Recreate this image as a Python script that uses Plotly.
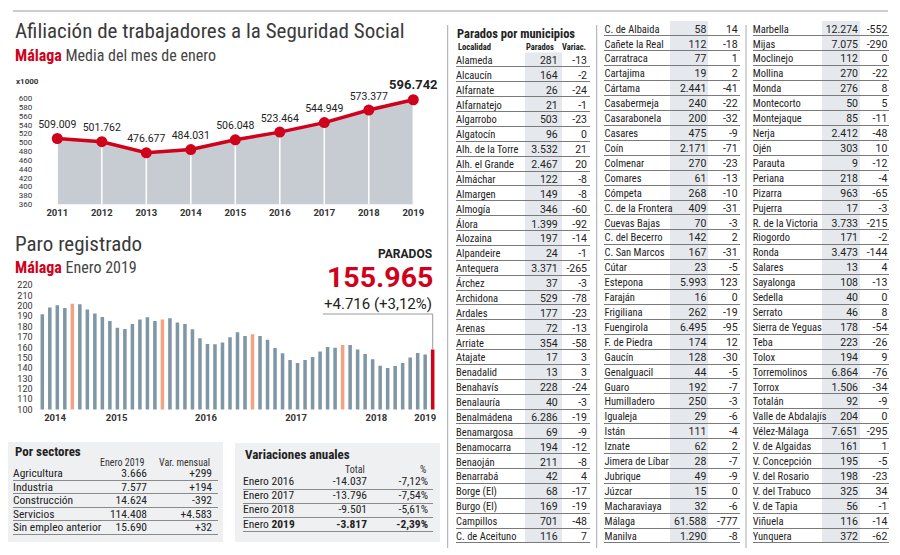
import plotly.graph_objects as go

W, H = 900, 555

# ---------------- DATA ----------------
afil_years = [2011, 2012, 2013, 2014, 2015, 2016, 2017, 2018, 2019]
afil_values = [509.009, 501.762, 476.677, 484.031, 506.048, 523.464, 544.949, 573.377, 596.742]
afil_ticks = [360, 380, 400, 420, 440, 460, 480, 500, 520, 540, 560, 580, 600]

# Paro registrado (miles), Sep 2014 .. Jan 2019
paro_values = [192, 198.4, 200.6, 198, 202, 201.6, 196.5, 192.6, 189.4, 185.5,
               179, 177.7, 182.6, 187, 189, 185.5, 187, 188, 184, 182.6,
               177.4, 168.7, 163.2, 163, 164.8, 169.7, 174.5, 171, 172.6, 171,
               167.4, 159.4, 154.2, 147.7, 144.8, 147.7, 150.6, 156, 160.3, 159.7,
               162.3, 162.3, 158, 153.5, 148.4, 142.3, 140, 142, 144.8, 150.3,
               154.5, 153, 158]
paro_jan_idx = [4, 16, 28, 40]
paro_year_labels = ["2014", "2015", "2016", "2017", "2018", "2019"]
paro_year_pos = [1.7, 9.9, 21.8, 33.8, 44.5, 51.0]
paro_ticks = [100, 110, 120, 130, 140, 150, 160, 170, 180, 190, 200, 210, 220]
parados_total = 155965
parados_diff = 4716
parados_diff_pct = 3.12

sect_names = ["Agricultura", "Industria", "Construcción", "Servicios", "Sin empleo anterior"]
sect_enero = [3666, 7577, 14624, 114408, 15690]
sect_var = [299, 194, -392, 4583, 32]

var_years = ["2016", "2017", "2018", "2019"]
var_total = [-14037, -13796, -9501, -3817]
var_pct = [-7.12, -7.54, -5.61, -2.39]

mun1_names = ["Alameda", "Alcaucín", "Alfarnate", "Alfarnatejo", "Algarrobo", "Algatocín",
              "Alh. de la Torre", "Alh. el Grande", "Almáchar", "Almargen", "Almogía", "Álora",
              "Alozaina", "Alpandeire", "Antequera", "Árchez", "Archidona", "Ardales", "Arenas",
              "Arriate", "Atajate", "Benadalid", "Benahavís", "Benalauría", "Benalmádena",
              "Benamargosa", "Benamocarra", "Benaoján", "Benarrabá", "Borge (El)", "Burgo (El)",
              "Campillos", "C. de Aceituno"]
mun1_parados = [281, 164, 26, 21, 503, 96, 3532, 2467, 122, 149, 346, 1399, 197, 24, 3371,
                37, 529, 177, 72, 354, 17, 13, 228, 40, 6286, 69, 194, 211, 42, 68, 169, 701, 116]
mun1_var = [-13, -2, -24, -1, -23, 0, 21, 20, -8, -8, -60, -92, -14, -1, -265,
            -3, -78, -23, -13, -58, 3, 3, -24, -3, -19, -9, -12, -8, 4, -17, -19, -48, 7]

mun2_names = ["C. de Albaida", "Cañete la Real", "Carratraca", "Cartajima", "Cártama",
              "Casabermeja", "Casarabonela", "Casares", "Coín", "Colmenar", "Comares", "Cómpeta",
              "C. de la Frontera", "Cuevas Bajas", "C. del Becerro", "C. San Marcos", "Cútar",
              "Estepona", "Faraján", "Frigiliana", "Fuengirola", "F. de Piedra", "Gaucín",
              "Genalguacil", "Guaro", "Humilladero", "Igualeja", "Istán", "Iznate",
              "Jimera de Líbar", "Jubrique", "Júzcar", "Macharaviaya", "Málaga", "Manilva"]
mun2_parados = [58, 112, 77, 19, 2441, 240, 200, 475, 2171, 270, 61, 268, 409, 70, 142, 167, 23,
                5993, 16, 262, 6495, 174, 128, 44, 192, 250, 29, 111, 62, 28, 49, 15, 32, 61588, 1290]
mun2_var = [14, -18, 1, 2, -41, -22, -32, -9, -71, -23, -13, -10, -31, -3, 2, -31, -5,
            123, 0, -19, -95, 12, -30, -5, -7, -3, -6, -4, 2, -7, -9, 0, -6, -777, -8]

mun3_names = ["Marbella", "Mijas", "Moclinejo", "Mollina", "Monda", "Montecorto", "Montejaque",
              "Nerja", "Ojén", "Parauta", "Periana", "Pizarra", "Pujerra", "R. de la Victoria",
              "Riogordo", "Ronda", "Salares", "Sayalonga", "Sedella", "Serrato", "Sierra de Yeguas",
              "Teba", "Tolox", "Torremolinos", "Torrox", "Totalán", "Valle de Abdalajís",
              "Vélez-Málaga", "V. de Algaidas", "V. Concepción", "V. del Rosario", "V. del Trabuco",
              "V. de Tapia", "Viñuela", "Yunquera"]
mun3_parados = [12274, 7075, 112, 270, 276, 50, 85, 2412, 303, 9, 218, 963, 17, 3733, 171, 3473, 13,
                108, 40, 46, 178, 223, 194, 6864, 1506, 92, 204, 7651, 161, 195, 198, 325, 56, 116, 372]
mun3_var = [-552, -290, 0, -22, 8, 5, -11, -48, 10, -12, -4, -65, -3, -215, -2, -144, 4,
            -13, 0, 8, -54, -26, 9, -76, -34, -9, 0, -295, 1, -5, -23, 34, -1, -14, -62]


# ---------------- HELPERS ----------------
def es_int(v, plus=False):
    s = f"{abs(v):,}".replace(",", ".")
    if v < 0:
        return "-" + s
    if plus and v > 0:
        return "+" + s
    return s


def es_dec(v, nd=3):
    return f"{v:.{nd}f}".replace(".", ",")


def dom_x(a, b):
    return [a / W, b / W]


def dom_y(top, bottom):
    return [1 - bottom / H, 1 - top / H]


FN = "Liberation Sans Narrow, Arial Narrow, Roboto Condensed, DejaVu Sans Condensed, sans-serif"
FR = "Roboto, Liberation Sans, Arial, sans-serif"
DARK = "#222222"
GREY_T = "#333333"
RED = "#d0021b"
BAR_C = "#7f97a5"
ORANGE = "#f2a386"
FILL_C = "#c6ccd2"
BAND_C = "#e5e9ed"
BOX_C = "#eef0f2"

fig = go.Figure()
layout = dict(width=W, height=H, margin=dict(l=0, r=0, t=0, b=0, pad=0, autoexpand=False),
              autosize=False,
              paper_bgcolor="white", plot_bgcolor="rgba(0,0,0,0)", showlegend=False,
              font=dict(family=FN, color=DARK))
shapes = []
annotations = []


def ann(text, x, y, size, anchor="left", color=DARK, family=FN):
    annotations.append(dict(text=text, x=x / W, y=1 - y / H, xref="paper", yref="paper",
                            xanchor=anchor, yanchor="middle", showarrow=False,
                            font=dict(size=size, color=color, family=family)))


# ---------------- LINE CHART (Afiliación) ----------------
layout["xaxis"] = dict(domain=dom_x(57.3, 413.3), range=[2011, 2019], anchor="y",
                       tickvals=afil_years, ticktext=[f"<b>{y}</b>" for y in afil_years],
                       tickfont=dict(size=9.5, family=FR, color=GREY_T),
                       ticks="", showgrid=False, zeroline=False, showline=False,
                       ticklabelstandoff=1, automargin=False, fixedrange=True)
layout["yaxis"] = dict(domain=dom_y(98.3, 204.3), range=[360, 600], anchor="x",
                       tickvals=afil_ticks, tickfont=dict(size=8, family=FR, color=GREY_T),
                       ticks="", showgrid=False, zeroline=False, showline=False,
                       ticklabelstandoff=24, automargin=False, fixedrange=True)

fig.add_trace(go.Scatter(x=afil_years, y=afil_values, mode="lines", fill="tozeroy",
                         fillcolor=FILL_C, line=dict(width=0), hoverinfo="skip",
                         xaxis="x", yaxis="y"))
xs_w, ys_w = [], []
for yr, v in zip(afil_years, afil_values):
    xs_w += [yr, yr, None]
    ys_w += [afil_ticks[0], v, None]
fig.add_trace(go.Scatter(x=xs_w, y=ys_w, mode="lines", line=dict(color="white", width=1.5),
                         hoverinfo="skip", xaxis="x", yaxis="y"))
labels = [f"{v:.3f}" for v in afil_values]
labels[-1] = "<b>" + labels[-1] + "</b>"
fig.add_trace(go.Scatter(x=afil_years, y=afil_values, mode="lines+markers+text",
                         line=dict(color=RED, width=3.5), marker=dict(color=RED, size=11),
                         text=labels, textposition="top center", cliponaxis=False,
                         textfont=dict(size=[10.5] * (len(labels) - 1) + [13], family=FR, color=DARK),
                         xaxis="x", yaxis="y"))

ann("Afiliación de trabajadores a la Seguridad Social", 13, 31, 21, color="#3a3a3a")
ann(f'<b><span style="color:{RED}">Málaga</span></b> Media del mes de enero', 13, 56, 16,
    color="#444444")
ann("<b>x1000</b>", 14, 81, 8, family=FR, color=GREY_T)

# ---------------- BAR CHART (Paro) ----------------
n_bars = len(paro_values)
bx0, bx1 = 38.55, 436.45
layout["xaxis2"] = dict(domain=dom_x(bx0, bx1), range=[-0.5, n_bars - 0.5], anchor="y2",
                        tickvals=paro_year_pos, ticktext=[f"<b>{t}</b>" for t in paro_year_labels],
                        tickfont=dict(size=9.5, family=FR, color=GREY_T),
                        ticks="", showgrid=False, zeroline=False, showline=False,
                        ticklabelstandoff=1, automargin=False, fixedrange=True)
layout["yaxis2"] = dict(domain=dom_y(285.2, 409.5), range=[100, 220], anchor="x2",
                        tickvals=paro_ticks, tickfont=dict(size=9, family=FR, color=GREY_T),
                        ticks="", showgrid=False, zeroline=False, showline=False,
                        ticklabelstandoff=5, automargin=False, fixedrange=True)
bar_colors = [BAR_C] * n_bars
for i in paro_jan_idx:
    bar_colors[i] = ORANGE
bar_colors[-1] = RED
fig.add_trace(go.Bar(x=list(range(n_bars)), y=paro_values, width=0.47,
                     marker=dict(color=bar_colors, line=dict(width=0)),
                     xaxis="x2", yaxis="y2", hoverinfo="skip"))

# callout from the headline number to the last bar
step = (bx1 - bx0) / n_bars
call_x0 = (323 - bx0) / step - 0.5
call_y = 100 + (409.5 - 314) / ((409.5 - 285.2) / 120)
shapes.append(dict(type="line", xref="x2", yref="y2", x0=call_x0, x1=n_bars - 1,
                   y0=call_y, y1=call_y, line=dict(color="#999999", width=1)))
shapes.append(dict(type="line", xref="x2", yref="y2", x0=n_bars - 1, x1=n_bars - 1,
                   y0=call_y, y1=paro_values[-1], line=dict(color="#999999", width=1)))

ann("Paro registrado", 13, 244, 21, color="#3a3a3a")
ann(f'<b><span style="color:{RED}">Málaga</span></b> Enero 2019', 13, 267, 16, color="#444444")
ann("<b>PARADOS</b>", 434, 254, 12, anchor="right", family=FR, color=DARK)
ann(f"<b>{es_int(parados_total)}</b>", 435, 277.5, 28.5, anchor="right", family=FR, color=RED)
ann(f"{es_int(parados_diff, plus=True)} (+{es_dec(parados_diff_pct, 2)}%)", 434, 303.5, 15,
    anchor="right", family=FR, color=DARK)


# ---------------- TABLES ----------------
def add_table(idx, x0, x1, first_line, last_line, cols, y_shift, grid_color, band=None):
    n = len(cols[0][0])
    rowh = (last_line - first_line) / (n - 1)
    top = first_line - rowh
    bottom = last_line + 0.1 * rowh
    layout[f"xaxis{idx}"] = dict(domain=dom_x(x0, x1), range=[0, x1 - x0], visible=False,
                                 anchor=f"y{idx}", fixedrange=True)
    layout[f"yaxis{idx}"] = dict(domain=dom_y(top, bottom), range=[n - 0.4, -0.5],
                                 anchor=f"x{idx}", tickvals=[i + 0.5 for i in range(n)],
                                 showgrid=True, gridcolor=grid_color, gridwidth=1,
                                 showticklabels=False, ticks="", zeroline=False,
                                 showline=False, automargin=False, fixedrange=True)
    if band:
        shapes.append(dict(type="rect", xref=f"x{idx}", yref=f"y{idx}", x0=band[0] - x0,
                           x1=band[1] - x0, y0=-0.5, y1=n - 0.5, fillcolor=BAND_C,
                           line=dict(width=0), layer="below"))
    for texts, xpos, align, font in cols:
        fig.add_trace(go.Scatter(x=[xpos - x0] * n, y=[i + y_shift for i in range(n)],
                                 mode="text", text=texts,
                                 textposition="middle right" if align == "left" else "middle left",
                                 textfont=font, cliponaxis=False, hoverinfo="skip",
                                 xaxis=f"x{idx}", yaxis=f"y{idx}"))


# bottom boxes
shapes.append(dict(type="rect", xref="paper", yref="paper", x0=8 / W, x1=223 / W,
                   y0=1 - 542 / H, y1=1 - 442 / H, fillcolor=BOX_C, line=dict(width=0),
                   layer="below"))
shapes.append(dict(type="rect", xref="paper", yref="paper", x0=235 / W, x1=440 / W,
                   y0=1 - 542 / H, y1=1 - 443 / H, fillcolor=BOX_C, line=dict(width=0),
                   layer="below"))

fb = dict(size=11.5, family=FN, color=DARK)
add_table(3, 13, 218, 480, 534,
          [(sect_names, 13, "left", fb),
           ([es_int(v) for v in sect_enero], 147, "right", fb),
           ([es_int(v, plus=True) for v in sect_var], 212, "right", fb)],
          0.1, "#8a8a8a")
ann("<b>Por sectores</b>", 13, 451, 13, color=DARK)
ann("Enero 2019", 147, 462, 10, anchor="right", color=GREY_T)
ann("Var. mensual", 212, 462, 10, anchor="right", color=GREY_T)

var_lab = [f"Enero {y}" for y in var_years]
var_lab[-1] = f"Enero <b>{var_years[-1]}</b>"
var_tot = [es_int(v) for v in var_total]
var_tot[-1] = "<b>" + var_tot[-1] + "</b>"
var_p = [es_dec(v, 2) + "%" for v in var_pct]
var_p[-1] = "<b>" + var_p[-1] + "</b>"
add_table(4, 243, 433, 489.3, 531.7,
          [(var_lab, 243, "left", fb), (var_tot, 367, "right", fb), (var_p, 428, "right", fb)],
          0.0, "#8a8a8a")
ann("<b>Variaciones anuales</b>", 243, 454, 13, color=DARK)
ann("Total", 367, 469, 10, anchor="right", color=GREY_T)
ann("%", 428, 469, 10, anchor="right", color=GREY_T)

# municipalities
fn_m = dict(size=10.5, family=FN, color=DARK)
fr_m = dict(size=10.5, family=FR, color=DARK)
add_table(5, 456, 590, 67, 543,
          [(mun1_names, 456, "left", fn_m),
           ([es_int(v) for v in mun1_parados], 557.7, "right", fr_m),
           ([es_int(v) for v in mun1_var], 587, "right", fr_m)],
          0.12, "#7a7a7a", band=(525, 562))
add_table(6, 604, 740, 36, 543,
          [(mun2_names, 604.5, "left", fn_m),
           ([es_int(v) for v in mun2_parados], 706.3, "right", fr_m),
           ([es_int(v) for v in mun2_var], 737.7, "right", fr_m)],
          0.1, "#7a7a7a", band=(670, 708))
add_table(7, 752.7, 889, 36, 543,
          [(mun3_names, 752.7, "left", fn_m),
           ([es_int(v) for v in mun3_parados], 858, "right", fr_m),
           ([es_int(v) for v in mun3_var], 887.3, "right", fr_m)],
          0.1, "#7a7a7a", band=(822, 860))

ann("<b>Parados por municipios</b>", 455, 33, 12.5, color=DARK)
ann("<b>Localidad</b>", 456, 47, 8.5, color=DARK)
ann("<b>Parados</b>", 556, 47, 8.5, anchor="right", color=DARK)
ann("<b>Variac.</b>", 588, 47, 8.5, anchor="right", color=DARK)

# separators
shapes.append(dict(type="line", xref="paper", yref="paper", x0=13 / W, x1=888 / W,
                   y0=1 - 11 / H, y1=1 - 11 / H, line=dict(color="#9a9a9a", width=1)))
for xv in (447.7, 596.7, 746):
    shapes.append(dict(type="line", xref="paper", yref="paper", x0=xv / W, x1=xv / W,
                       y0=1 - 548 / H, y1=1 - 25 / H, line=dict(color="#a8a8a8", width=1)))

layout["shapes"] = shapes
layout["annotations"] = annotations
fig.update_layout(**layout)
fig.write_html("out.html", config={"displayModeBar": False, "staticPlot": True},
               post_script="document.body.style.margin='0';document.body.style.padding='0';")
